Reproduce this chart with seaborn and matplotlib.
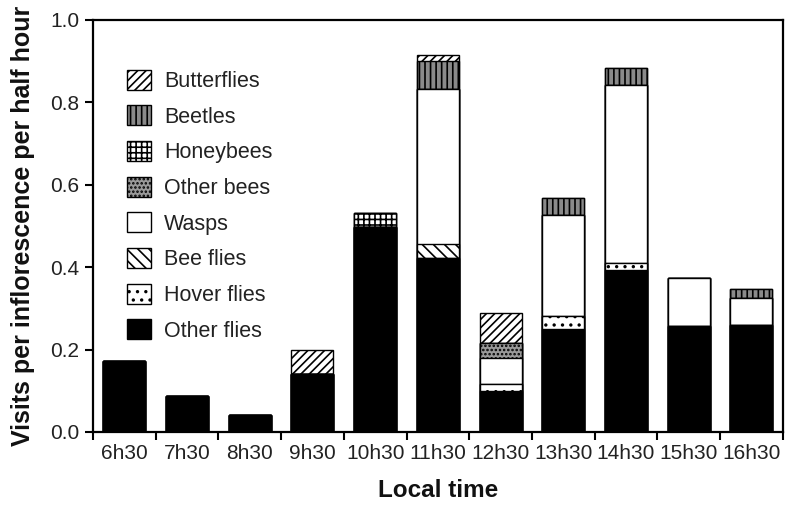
import matplotlib
matplotlib.use("Agg")
import matplotlib.pyplot as plt
from matplotlib.patches import Patch
from matplotlib.ticker import FixedLocator
import numpy as np
import seaborn as sns

times = ["6h30", "7h30", "8h30", "9h30", "10h30", "11h30", "12h30", "13h30", "14h30", "15h30", "16h30"]
other_flies = [0.173, 0.087, 0.041, 0.140, 0.497, 0.421, 0.100, 0.250, 0.393, 0.256, 0.260]
hover_flies = [0, 0, 0, 0, 0, 0, 0.017, 0.032, 0.016, 0, 0]
bee_flies = [0, 0, 0, 0, 0, 0.035, 0, 0, 0, 0, 0]
wasps = [0, 0, 0, 0, 0, 0.376, 0.062, 0.245, 0.433, 0.117, 0.065]
other_bees = [0, 0, 0, 0, 0, 0, 0.036, 0, 0, 0, 0]
honeybees = [0, 0, 0, 0, 0.035, 0, 0, 0, 0, 0, 0]
beetles = [0, 0, 0, 0, 0, 0.067, 0, 0.040, 0.041, 0, 0.022]
butterflies = [0, 0, 0, 0.060, 0, 0.016, 0.073, 0, 0, 0, 0]

# bottom to top
groups = ["Other flies", "Hover flies", "Bee flies", "Wasps", "Other bees", "Honeybees", "Beetles", "Butterflies"]
series = [other_flies, hover_flies, bee_flies, wasps, other_bees, honeybees, beetles, butterflies]
styles = {
    "Other flies": dict(color="black", hatch=None),
    "Hover flies": dict(color="white", hatch=".."),
    "Bee flies": dict(color="white", hatch="\\\\\\"),
    "Wasps": dict(color="white", hatch=None),
    "Other bees": dict(color="#9a9a9a", hatch="...."),
    "Honeybees": dict(color="white", hatch="+++"),
    "Beetles": dict(color="#8a8a8a", hatch="|||"),
    "Butterflies": dict(color="white", hatch="////"),
}

sns.set_theme(style="white")
plt.rcParams["font.family"] = ["Liberation Sans", "DejaVu Sans"]
plt.rcParams["hatch.linewidth"] = 1.2

fig = plt.figure(figsize=(8.02, 5.07), dpi=100)
ax = fig.add_axes([0.116, 0.148, 0.860, 0.813])

cum = np.cumsum(np.array(series), axis=0)
for i in range(len(groups) - 1, -1, -1):
    g = groups[i]
    st = styles[g]
    kw = dict(x=times, y=cum[i], color=st["color"], edgecolor="black",
              linewidth=1.0, width=0.67, saturation=1, ax=ax, order=times)
    if st["hatch"]:
        kw["hatch"] = st["hatch"]
    sns.barplot(**kw)

ax.set_xlim(-0.5, 10.5)
ax.set_ylim(0, 1.0)
ax.set_yticks([0, 0.2, 0.4, 0.6, 0.8, 1.0])
ax.set_yticklabels(["0.0", "0.2", "0.4", "0.6", "0.8", "1.0"])
ax.set_xticks(range(len(times)))
ax.set_xticklabels(times)
ax.xaxis.set_minor_locator(FixedLocator(np.arange(-0.5, 11, 1.0)))
ax.tick_params(axis="x", which="major", length=0, labelsize=15, colors="#222222", pad=9)
ax.tick_params(axis="x", which="minor", length=6, width=1.5, direction="out", bottom=True, color="black")
ax.tick_params(axis="y", which="major", length=6, width=1.5, direction="out", left=True, labelsize=15,
               labelcolor="#222222", color="black", pad=4)

for s in ax.spines.values():
    s.set_visible(True)
    s.set_color("black")
    s.set_linewidth(1.6)

ax.set_xlabel("Local time", fontsize=17.5, fontweight="bold", color="#111111", labelpad=11)
ax.set_ylabel("Visits per inflorescence per half hour", fontsize=18, fontweight="bold", color="#111111", labelpad=11)

handles = []
for g in reversed(groups):
    st = styles[g]
    handles.append(Patch(facecolor=st["color"], edgecolor="black", hatch=st["hatch"], label=g, linewidth=1.0))
leg = ax.legend(handles=handles, loc="upper left", bbox_to_anchor=(0.037, 0.9), frameon=False,
                fontsize=15.5, handlelength=1.1, handleheight=1.05, labelspacing=0.62, handletextpad=0.6,
                borderaxespad=0)
for t in leg.get_texts():
    t.set_color("#222222")

fig.savefig("out.png", dpi=100)
